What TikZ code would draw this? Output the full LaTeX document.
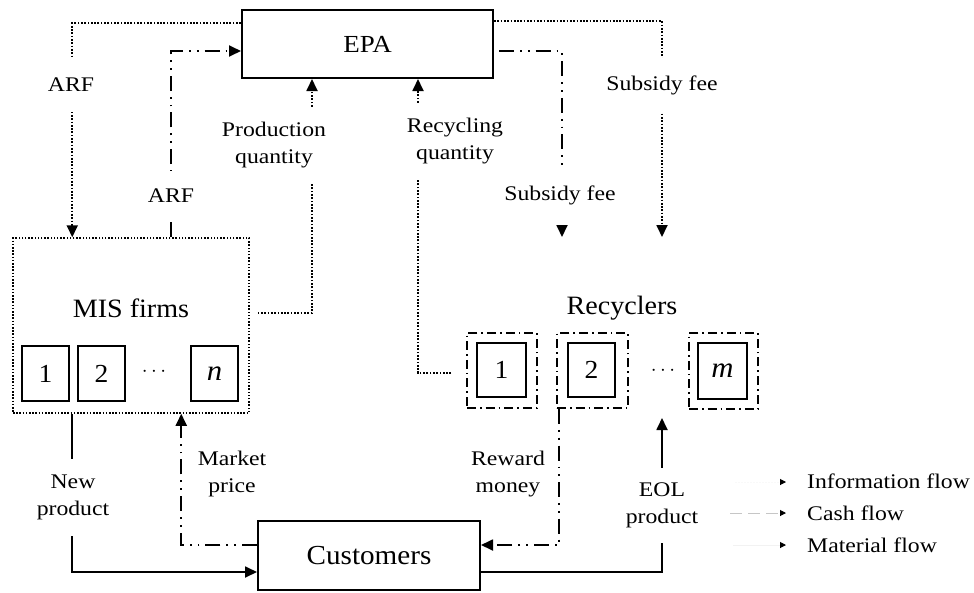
\documentclass[tikz,border=0pt]{standalone}
\usepackage{fontspec}
\setmainfont{Liberation Serif}
\newfontfamily\widefont{Liberation Serif}[FakeStretch=1.14]
\newfontfamily\epafont{Liberation Serif}[FakeStretch=1.1]
\newfontfamily\boxfont{Liberation Serif}[FakeStretch=1.06]
\usetikzlibrary{arrows.meta}

\tikzset{
  tip/.style={-{Triangle[length=12pt,width=11pt]}},
  info/.style={line width=1.8pt, dash pattern=on 1.7pt off 1.6pt},
  cash/.style={line width=1.8pt, dash pattern=on 15pt off 6pt on 1.8pt off 6pt on 1.8pt off 6pt},
  material/.style={line width=1.8pt},
  mainbox/.style={draw, line width=2pt, inner sep=0pt},
  firmbox/.style={draw, line width=2pt, inner sep=0pt, minimum width=47pt, minimum height=55pt,
    font=\boxfont\fontsize{26}{30}\selectfont},
  recbox/.style={draw, line width=1.8pt, inner sep=0pt, minimum width=70pt, minimum height=75pt,
    dash pattern=on 9pt off 4pt on 1.6pt off 4pt},
  title/.style={font=\boxfont\fontsize{26.5}{30}\selectfont, inner sep=0pt},
  gaplbl/.style={font=\widefont\fontsize{20.8}{27}\selectfont, align=center, fill=white,
    inner xsep=2pt, inner ysep=0pt},
  sidelbl/.style={font=\widefont\fontsize{20.8}{27}\selectfont, align=center, inner sep=0pt},
  legtext/.style={font=\widefont\fontsize{20.8}{24}\selectfont, anchor=west, inner sep=0pt},
  legtip/.style={-{Triangle[length=6pt,width=6pt,black]}},
}

\begin{document}
\begin{tikzpicture}[x=1pt, y=-1pt]
\useasboundingbox (0,0) rectangle (974,592);

% --- main actors ---
\node[mainbox, minimum width=251pt, minimum height=68pt,
      font=\epafont\fontsize{24.5}{26}\selectfont] (epa) at (367.5,44) {EPA};
\node[mainbox, minimum width=222pt, minimum height=69pt,
      font=\boxfont\fontsize{27.5}{30}\selectfont] (cust) at (369,555.5) {Customers};

% MIS firms group
\node[draw, line width=1.5pt, dash pattern=on 1.5pt off 1.7pt, inner sep=0pt,
      minimum width=236pt, minimum height=175pt] (mis) at (131,325.5) {};
\node[title] (mist) at (131,308) {MIS firms};
\node[firmbox] (f1) at (45.5,373.5) {1};
\node[firmbox] (f2) at (101.5,373.5) {2};
\node[firmbox] (fn) at (214.5,373.5) {\fontsize{29}{30}\selectfont\itshape n};
\node[inner sep=0pt, font=\fontsize{20}{20}\selectfont] (fdots) at (154,372) {$\cdots$};

% Recyclers group
\node[title] (rect) at (622,308) {Recyclers};
\node[recbox] (r1o) at (502,370.5) {};
\node[firmbox, minimum width=49pt, minimum height=54pt] (r1) at (501.5,370) {1};
\node[recbox, minimum width=71pt] (r2o) at (592.5,370.5) {};
\node[firmbox, minimum width=47pt, minimum height=54pt] (r2) at (591.5,370) {2};
\node[recbox, minimum width=69pt, minimum height=76pt] (rmo) at (723.5,371) {};
\node[firmbox, minimum width=49pt, minimum height=56pt] (rm) at (722.5,371)
     {\fontsize{29}{30}\selectfont\itshape m};
\node[inner sep=0pt, font=\fontsize{20}{20}\selectfont] (rdots) at (663,371) {$\cdots$};

% free ends of connectors
\coordinate (subA) at (562,237);
\coordinate (subB) at (662,237);
\coordinate (eolend) at (662,418);

% --- information flows ---
\draw[info, tip] ([yshift=-14pt]epa.north west) -| ([xshift=60pt]mis.north west);
\node[gaplbl, minimum height=54pt] (arf1) at (71,85) {ARF};

\draw[info, tip, shorten <=8pt] ([yshift=12.5pt]mis.east) -| ([xshift=-55.5pt]epa.south);
\node[gaplbl, minimum height=76pt] (pq) at (274,145) {Production\\quantity};

\draw[info, tip, shorten <=15pt] ([yshift=-2.5pt]r1o.west) -| ([xshift=50.5pt]epa.south);
\node[gaplbl, minimum height=77pt] (rq) at (455,141.5) {Recycling\\quantity};

\draw[info, tip] ([yshift=-12pt]epa.north east) -| (subB);
\node[gaplbl, minimum height=54pt] (sf1) at (662,85) {Subsidy fee};

% --- cash flows ---
\draw[cash, tip] ([xshift=159pt]mis.north west) |- ([yshift=-42pt]epa.north west);
\node[gaplbl, minimum height=50pt] (arf2) at (171,196) {ARF};

\draw[cash, tip, shorten <=5pt] ([yshift=-42pt]epa.north east) -| (subA);
\node[gaplbl, minimum height=58pt] (sf2) at (560,195) {Subsidy fee};

\draw[cash, tip] ([yshift=10.5pt]cust.west) -| ([xshift=169pt]mis.south west);
\node[sidelbl] (mp) at (232,474) {Market\\price};

\draw[cash, tip] ([xshift=3pt]r2o.south west) |- ([yshift=10.5pt]cust.east);
\node[sidelbl] (rw) at (508,474) {Reward\\money};

% --- material flows ---
\draw[material, tip] ([xshift=60pt]mis.south west) |- ([yshift=-16.5pt]cust.west);
\node[gaplbl, minimum height=77pt] (np) at (73,497) {New\\product};

\draw[material, tip] ([yshift=-16.5pt]cust.east) -| (eolend);
\node[gaplbl, minimum height=75pt] (eol) at (662,505) {EOL\\product};

% --- legend ---
\coordinate (l1s) at (735,482);  \coordinate (l1e) at (786,482);
\coordinate (l2s) at (730,513);  \coordinate (l2e) at (786,513);
\coordinate (l3s) at (733,545);  \coordinate (l3e) at (786,545);
\draw[legtip, gray!5, line width=1pt, dash pattern=on 1.5pt off 1.5pt] (l1s) -- (l1e);
\draw[legtip, gray!45, line width=1pt, dash pattern=on 12pt off 6pt] (l2s) -- (l2e);
\draw[legtip, gray!10, line width=1pt] (l3s) -- (l3e);
\node[legtext] (lg1) at (807,481) {Information flow};
\node[legtext] (lg2) at (807,513) {Cash flow};
\node[legtext] (lg3) at (807,545) {Material flow};
\end{tikzpicture}
\end{document}
